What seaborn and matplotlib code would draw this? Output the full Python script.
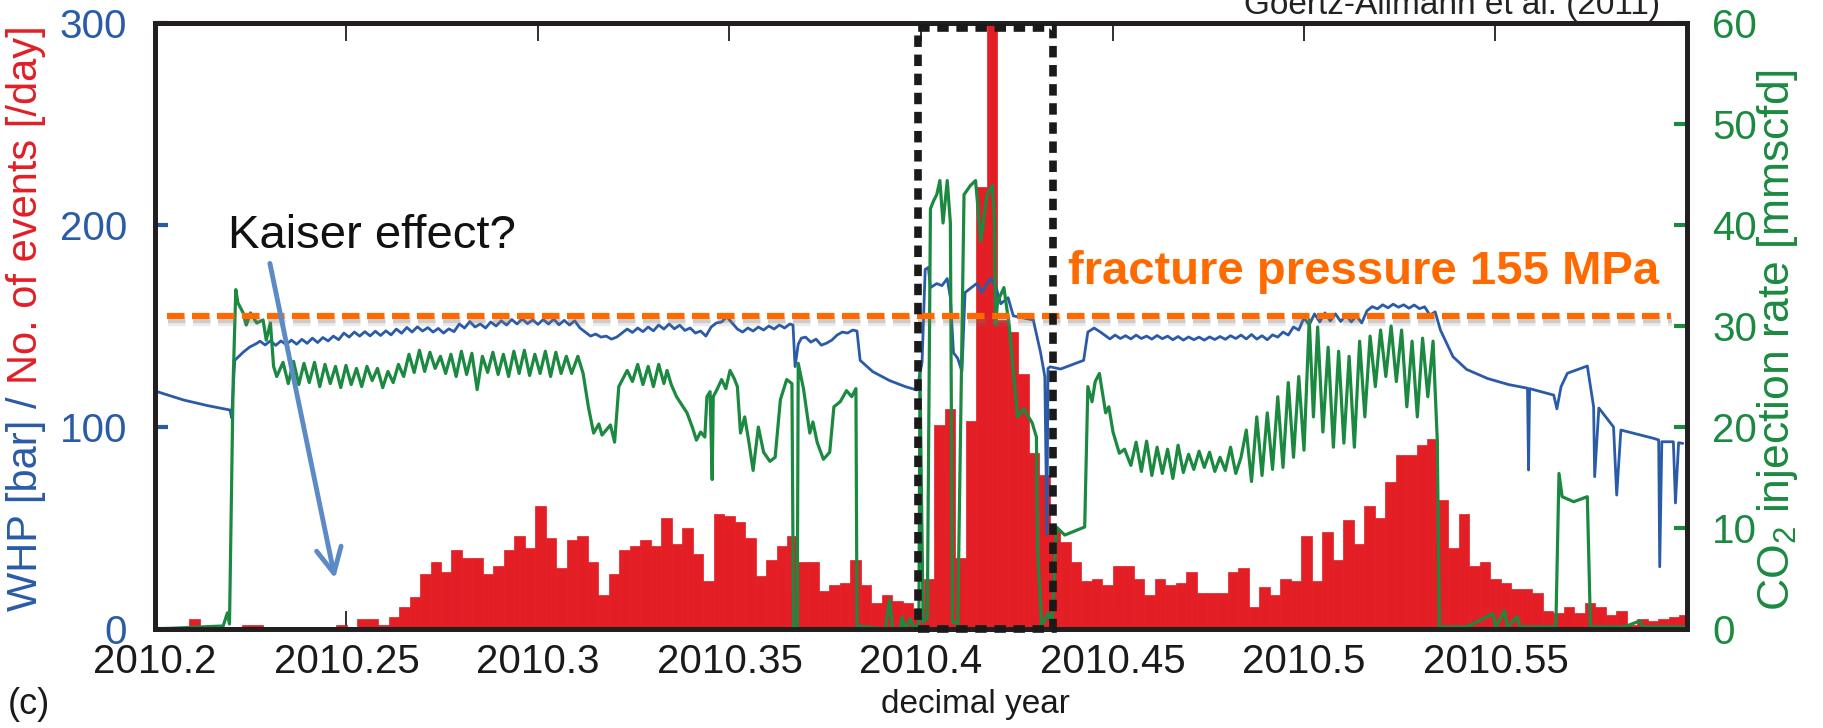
import matplotlib
matplotlib.use("Agg")
import numpy as np
import pandas as pd
import matplotlib.pyplot as plt
import matplotlib.patheffects as pe
from matplotlib.patches import Rectangle
import seaborn as sns

sns.set_theme(style="white")
plt.rcParams["font.family"] = ["Liberation Sans", "DejaVu Sans"]
plt.rcParams["mathtext.default"] = "regular"

BLUE = "#2a5ba8"
RED = "#e31e25"
GREEN = "#1b8a40"
ORANGE = "#ff6a00"
ARROW_BLUE = "#5b8ac6"
INK = "#231f20"

# ---------------------------------------------------------------- data
# daily number of micro-seismic events, one bin per day from EVENT_START
EVENT_START = 2010.2007
events_per_day = [
    1, 0, 1, 5, 1, 0, 0, 0, 2, 2,
    1, 1, 1, 1, 1, 1, 0, 2, 1, 5,
    5, 2, 6, 11, 16, 27, 33, 28, 39, 35,
    35, 27, 31, 39, 46, 40, 61, 45, 30, 44,
    46, 33, 17, 27, 39, 41, 44, 41, 55, 42,
    50, 37, 24, 57, 56, 53, 45, 26, 34, 41,
    46, 33, 33, 19, 22, 23, 34, 22, 13, 17,
    14, 13, 10, 25, 101, 109, 35, 103, 219, 330,
    153, 147, 126, 87, 76, 49, 43, 33, 24, 25,
    22, 31, 31, 25, 17, 25, 22, 23, 28, 18,
    18, 18, 28, 30, 11, 21, 17, 25, 24, 46,
    24, 48, 34, 54, 42, 61, 55, 73, 86, 86,
    91, 94, 64, 40, 57, 31, 33, 25, 23, 20,
    20, 18, 9, 8, 11, 8, 13, 11, 7, 9,
    2, 5, 4, 5, 6, 7,
]

# wellhead pressure [bar]; time in days after 2010.2
whp_day = [
    0.0, 0.2, 2.7, 5.0, 7.15, 7.3, 7.6, 8.4, 9.0, 9.7,
    10.0, 10.5, 11.0, 11.5, 12.0, 12.5, 13.0, 13.5, 14.0, 14.5,
    15.0, 15.5, 16.0, 16.5, 17.0, 17.5, 18.0, 18.5, 19.0, 19.5,
    20.0, 20.5, 21.0, 21.5, 22.0, 22.5, 23.0, 23.5, 24.0, 24.5,
    25.0, 25.5, 26.0, 26.5, 27.0, 27.5, 28.0, 28.5, 29.0, 29.5,
    30.0, 30.5, 31.0, 31.5, 32.0, 32.5, 33.0, 33.5, 34.0, 34.5,
    35.0, 35.5, 36.0, 36.5, 37.0, 37.5, 38.0, 38.5, 39.0, 39.5,
    40.0, 40.5, 41.0, 41.5, 42.0, 42.5, 43.0, 43.5, 44.0, 44.5,
    45.0, 45.5, 46.0, 46.5, 47.0, 47.5, 48.0, 48.5, 49.0, 49.5,
    50.0, 50.5, 51.0, 51.5, 52.0, 52.5, 53.0, 53.5, 54.0, 54.5,
    55.0, 55.5, 56.0, 56.5, 57.0, 57.5, 58.0, 58.5, 59.0, 59.5,
    60.0, 60.5, 60.8, 61.0, 61.3, 61.6, 62.0, 62.5, 63.0, 63.5,
    64.0, 64.5, 65.0, 65.5, 66.0, 66.5, 66.9, 67.2, 68.4, 70.0,
    71.5, 72.6, 73.1, 73.4, 73.7, 73.9, 74.5, 75.0, 75.5, 75.8,
    76.1, 76.5, 76.9, 77.2, 77.8, 78.3, 78.8, 79.6, 80.1, 80.6,
    81.3, 81.8, 83.7, 84.4, 84.8, 85.0, 85.1, 85.3, 86.3, 88.5,
    88.9, 89.5, 90.1, 91.0, 91.5, 92.0, 92.5, 93.0, 93.5, 94.0,
    94.5, 95.0, 95.5, 96.0, 96.5, 97.0, 97.5, 98.0, 98.5, 99.0,
    99.5, 100.0, 100.5, 101.0, 101.5, 102.0, 102.5, 103.0, 103.5, 104.0,
    104.5, 105.0, 105.5, 106.0, 106.5, 107.0, 107.5, 108.0, 108.5, 109.0,
    109.5, 110.0, 110.5, 111.0, 111.5, 112.0, 112.5, 113.0, 113.5, 114.0,
    114.5, 115.0, 115.5, 116.0, 116.5, 117.0, 117.5, 118.0, 118.5, 119.0,
    119.5, 120.0, 120.5, 121.0, 121.5, 122.0, 122.5, 123.7, 125.0, 127.0,
    129.0, 130.8, 130.9, 131.0, 133.3, 133.6, 134.0, 134.6, 136.5, 137.1,
    137.2, 137.6, 139.0, 139.3, 139.7, 142.8, 143.3, 143.4, 143.6, 144.7,
    144.9, 145.2, 145.6,
]
whp_bar = [
    118.0, 117.5, 113.4, 110.6, 108.4, 104.5, 133.0, 137.0, 139.5, 141.4,
    142.5, 140.6, 142.7, 140.4, 142.6, 140.8, 143.0, 141.0, 143.4, 141.4,
    144.0, 141.8, 144.3, 142.6, 145.0, 143.2, 146.5, 144.5, 147.0, 145.0,
    147.2, 145.1, 147.4, 145.3, 147.6, 145.6, 148.5, 146.4, 149.3, 147.0,
    149.6, 147.5, 149.2, 147.0, 148.8, 146.5, 148.6, 147.2, 151.0, 149.0,
    152.2, 149.5, 151.0, 149.0, 152.0, 150.0, 152.6, 150.5, 153.2, 151.0,
    153.5, 151.2, 153.0, 150.8, 153.2, 151.0, 153.4, 150.6, 152.8, 150.5,
    152.6, 149.0, 147.0, 145.0, 146.0, 144.5, 145.0, 143.5, 144.5, 146.5,
    148.5, 146.8, 149.0, 147.2, 149.5, 147.6, 150.5, 148.5, 151.0, 148.6,
    150.4, 147.8, 149.0, 146.5, 147.5, 145.0, 149.5, 151.5, 152.0, 154.5,
    151.5, 148.5, 147.0, 149.0, 147.5, 149.5, 148.0, 150.0, 148.5, 150.5,
    149.0, 151.0, 150.5, 129.9, 141.0, 144.0, 144.5, 142.0, 143.5, 140.5,
    141.5, 143.0, 145.5, 147.0, 146.5, 148.0, 147.5, 133.0, 127.4, 123.0,
    120.0, 118.3, 132.0, 178.0, 179.0, 169.0, 171.0, 170.0, 173.5, 164.0,
    136.7, 134.0, 127.5, 166.6, 169.0, 171.0, 166.6, 173.5, 170.0, 161.0,
    164.0, 155.0, 153.0, 136.7, 125.0, 47.0, 129.0, 129.8, 128.7, 133.0,
    147.0, 149.0, 147.0, 143.6, 145.5, 143.8, 145.2, 143.6, 145.5, 143.8,
    145.0, 143.5, 145.3, 143.7, 145.0, 143.2, 144.8, 143.0, 144.6, 143.2,
    144.5, 143.0, 144.6, 143.3, 144.8, 143.4, 145.2, 143.8, 145.5, 143.6,
    145.8, 143.5, 145.2, 143.2, 145.6, 144.5, 147.0, 145.5, 149.5, 148.0,
    154.0, 150.5, 156.0, 152.0, 156.5, 152.5, 156.0, 152.2, 155.5, 152.0,
    155.0, 151.5, 157.5, 159.6, 158.5, 160.5, 159.0, 160.8, 159.3, 160.5,
    158.8, 160.4, 158.6, 159.5, 155.4, 157.0, 148.0, 134.8, 128.5, 124.0,
    121.0, 119.2, 78.7, 119.0, 115.8, 109.0, 120.0, 126.6, 130.2, 110.0,
    75.4, 109.4, 100.0, 66.3, 98.5, 94.4, 93.6, 30.8, 92.7, 92.7,
    62.4, 92.2, 91.9,
]

# CO2 injection rate [mmscfd]; time in days after 2010.2
co2_day = [
    0.0, 6.5, 6.9, 7.1, 7.3, 7.45, 7.7, 7.9, 8.4, 8.7,
    9.1, 9.7, 10.3, 10.6, 11.0, 11.3, 11.6, 12.2, 12.7, 13.2,
    13.7, 14.2, 14.7, 15.2, 15.7, 16.2, 16.7, 17.2, 17.7, 18.2,
    18.7, 19.2, 19.7, 20.2, 20.7, 21.2, 21.7, 22.2, 22.7, 23.2,
    23.7, 24.2, 24.7, 25.2, 25.7, 26.2, 26.7, 27.2, 27.7, 28.2,
    28.7, 29.2, 29.7, 30.2, 30.7, 31.2, 31.7, 32.2, 32.7, 33.2,
    33.7, 34.2, 34.7, 35.2, 35.7, 36.2, 36.7, 37.2, 37.7, 38.2,
    38.7, 39.2, 39.7, 40.3, 40.8, 41.3, 41.8, 42.3, 42.6, 43.0,
    43.4, 43.8, 44.2, 45.0, 45.5, 46.0, 46.5, 47.0, 47.5, 48.0,
    48.5, 48.8, 49.2, 49.7, 50.2, 50.7, 51.2, 51.6, 52.0, 52.4,
    52.6, 52.9, 53.1, 53.2, 53.6, 54.0, 54.4, 54.8, 55.2, 55.5,
    55.8, 56.2, 56.6, 57.0, 57.5, 58.0, 58.6, 59.1, 59.6, 60.2,
    60.7, 60.85, 61.2, 61.3, 61.8, 62.4, 62.7, 63.1, 63.7, 64.3,
    64.7, 65.3, 65.9, 66.4, 66.8, 66.9, 69.6, 70.0, 70.3, 71.0,
    71.2, 71.5, 72.0, 72.3, 72.8, 72.9, 73.2, 73.6, 73.9, 74.2,
    74.5, 74.8, 75.1, 75.5, 75.8, 76.0, 76.5, 77.1, 77.7, 78.2,
    78.7, 79.3, 79.8, 80.0, 80.1, 80.3, 80.9, 81.4, 81.8, 82.2,
    82.8, 83.6, 84.0, 84.1, 84.5, 85.1, 85.5, 85.9, 86.7, 88.6,
    88.9, 89.3, 89.6, 90.0, 90.6, 90.9, 91.3, 91.9, 92.4, 93.0,
    93.5, 94.0, 94.5, 95.0, 95.5, 96.0, 96.5, 97.0, 97.5, 98.0,
    98.5, 99.0, 99.5, 100.0, 100.5, 101.0, 101.5, 102.0, 102.5, 103.0,
    103.5, 104.0, 104.5, 105.0, 105.5, 106.0, 106.5, 107.0, 107.5, 108.0,
    108.5, 109.0, 109.5, 110.0, 110.4, 110.8, 111.3, 111.8, 112.3, 112.8,
    113.3, 113.8, 114.3, 114.8, 115.3, 115.8, 116.3, 116.8, 117.3, 117.8,
    118.3, 118.8, 119.3, 119.8, 120.3, 120.8, 121.3, 121.8, 122.2, 122.4,
    125.0, 127.5, 127.8, 128.6, 128.9, 129.8, 130.1, 133.5, 133.8, 134.1,
    135.2, 136.5, 136.8, 140.0, 141.5, 141.8, 145.8,
]
co2_rate = [
    0.0, 0.3, 1.6, 0.5, 14.0, 24.6, 33.6, 32.3, 31.3, 30.1,
    31.3, 30.3, 30.6, 28.6, 30.3, 26.0, 25.0, 26.4, 24.3, 26.5,
    24.2, 26.3, 24.4, 26.4, 24.0, 26.2, 24.3, 26.0, 23.9, 26.1,
    24.2, 25.8, 24.0, 26.0, 24.6, 25.8, 23.9, 25.5, 24.4, 26.2,
    25.0, 27.2, 25.4, 27.6, 25.5, 27.4, 25.8, 27.0, 25.3, 27.2,
    25.0, 27.5, 25.2, 27.3, 23.7, 27.0, 25.4, 27.4, 25.2, 27.2,
    25.0, 27.5, 25.3, 27.6, 25.1, 27.2, 25.3, 27.5, 25.0, 27.4,
    25.3, 27.0, 25.3, 27.0, 25.3, 22.0, 19.4, 20.3, 19.2, 19.7,
    20.2, 18.5, 24.0, 25.6, 24.5, 26.2, 24.2, 26.0, 24.0, 26.2,
    24.3, 25.6, 24.2, 23.0, 22.2, 21.4, 20.0, 18.7, 19.5, 19.0,
    23.0, 23.5, 14.8, 23.0, 23.8, 24.7, 23.8, 25.6, 24.8, 24.0,
    19.4, 21.0, 18.5, 15.7, 20.0, 17.5, 16.6, 17.0, 22.7, 24.7,
    24.3, 0.2, 0.2, 26.3, 23.8, 19.4, 20.5, 18.5, 16.8, 17.5,
    22.0, 22.5, 23.6, 23.0, 23.8, 0.3, 0.0, 2.9, 0.0, 0.0,
    1.2, 0.0, 1.0, 0.0, 0.5, 25.5, 0.7, 1.0, 41.6, 42.4,
    43.0, 44.4, 40.2, 44.4, 40.2, 0.7, 0.5, 43.0, 43.9, 44.4,
    38.4, 43.0, 43.9, 40.7, 30.1, 32.4, 33.8, 30.1, 25.5, 21.0,
    21.8, 20.4, 19.0, 8.1, 0.2, 1.6, 0.5, 10.1, 9.3, 10.1,
    24.0, 22.5, 24.5, 25.3, 21.4, 22.0, 19.5, 17.4, 17.8, 16.2,
    18.5, 15.6, 18.6, 15.2, 18.0, 15.4, 17.8, 14.9, 18.2, 15.5,
    17.3, 15.8, 17.6, 16.0, 17.5, 15.6, 17.0, 15.7, 18.0, 15.4,
    17.0, 19.7, 14.6, 21.0, 15.2, 21.4, 15.8, 23.0, 16.0, 24.4,
    17.0, 25.0, 17.7, 30.6, 21.0, 29.9, 19.5, 27.9, 18.0, 27.5,
    18.4, 27.0, 18.0, 28.5, 21.0, 29.0, 24.0, 29.6, 25.0, 30.0,
    24.5, 29.6, 22.0, 28.5, 21.0, 28.8, 23.0, 28.5, 18.7, 0.2,
    0.2, 1.5, 0.2, 1.8, 0.2, 1.2, 0.2, 0.2, 15.4, 13.1,
    12.6, 13.1, 0.2, 0.2, 0.8, 0.2, 0.2,
]

FRACTURE_PRESSURE = 155  # shown as "155 MPa" in the annotation
x_ticks = [2010.2, 2010.25, 2010.3, 2010.35, 2010.4, 2010.45, 2010.5, 2010.55]
x_tick_labels = ["2010.2", "2010.25", "2010.3", "2010.35",
                 "2010.4", "2010.45", "2010.5", "2010.55"]
left_ticks = [0, 100, 200, 300]
right_ticks = [0, 10, 20, 30, 40, 50, 60]

# ---------------------------------------------------------------- frames
n_bins = len(events_per_day)
DAY = 1 / 365.0
events = pd.DataFrame({"t": EVENT_START + (np.arange(n_bins) + 0.5) * DAY,
                       "n": events_per_day})
whp = pd.DataFrame({"t": 2010.2 + np.array(whp_day) * DAY, "p": whp_bar})
co2 = pd.DataFrame({"t": 2010.2 + np.array(co2_day) * DAY, "q": co2_rate})

# ---------------------------------------------------------------- figure
W, H = 1824, 728
fig = plt.figure(figsize=(W / 100, H / 100), dpi=100)
ax = fig.add_axes([155 / W, 99 / H, 1532 / W, 606 / H])

sns.histplot(data=events, x="t", weights="n", binwidth=DAY,
             binrange=(EVENT_START, EVENT_START + n_bins * DAY),
             color=RED, alpha=1.0, edgecolor=RED, linewidth=0.5,
             ax=ax, zorder=1)
sns.lineplot(data=whp, x="t", y="p", color=BLUE, linewidth=2.0,
             estimator=None, sort=False, ax=ax, zorder=3)

ax2 = ax.twinx()
sns.lineplot(data=co2, x="t", y="q", color=GREEN, linewidth=2.3,
             estimator=None, sort=False, ax=ax2, zorder=2)

ax.set_xlim(2010.2, 2010.6)
ax.set_ylim(0, 300)
ax2.set_ylim(0, 60)
ax.set_xlabel("")
ax.set_ylabel("")
ax2.set_ylabel("")
ax.grid(False)
ax2.grid(False)

ax.set_xticks(x_ticks)
ax.set_xticklabels(x_tick_labels)
ax.set_yticks(left_ticks)
ax2.set_yticks(right_ticks)

ax.tick_params(axis="x", direction="in", length=13, width=1.3, color=INK,
               labelsize=29, labelcolor="#1a1a1a", pad=10,
               bottom=True, top=True)
ax.tick_params(axis="y", direction="in", length=9.5, width=3, color=BLUE,
               labelcolor=BLUE, labelsize=29, pad=20, left=True, right=False)
ax2.tick_params(axis="y", direction="in", length=9.5, width=3, color=GREEN,
                labelcolor=GREEN, labelsize=29, pad=18, right=True, left=False)

for a in (ax, ax2):
    for s in a.spines.values():
        s.set_visible(True)
        s.set_linewidth(3.5)
        s.set_color(INK)

# fracture-pressure level, with a soft drop shadow
ax2.plot([2010.2031, 2010.5958], [FRACTURE_PRESSURE, FRACTURE_PRESSURE],
         transform=ax.transData, color=ORANGE, linewidth=4.5,
         linestyle=(0, (2.8, 1.2)), zorder=6, solid_capstyle="butt",
         path_effects=[
             pe.SimpleLineShadow(offset=(1, -3), shadow_color="#777777", alpha=0.25),
             pe.SimpleLineShadow(offset=(1, -5), shadow_color="#777777", alpha=0.15),
             pe.Normal()])

# dashed frame around the high-rate injection period
ax2.add_patch(Rectangle((2010.3992, 0.0), 0.0353, 0.992,
                        transform=ax2.get_xaxis_transform(), fill=False,
                        edgecolor="#1a1a1a", linewidth=5.5,
                        linestyle=(0, (1.5, 1.0)), zorder=8, clip_on=False))

# arrow from the Kaiser-effect note down to the quiet early period
ax2.annotate("", xy=(2010.247, 25), xytext=(2010.230, 181),
             xycoords=ax.transData, textcoords=ax.transData,
             arrowprops=dict(arrowstyle="->,head_length=0.6,head_width=0.3",
                             color=ARROW_BLUE, linewidth=3.5,
                             mutation_scale=30, shrinkA=0, shrinkB=0),
             zorder=9)

# ---------------------------------------------------------------- texts
fig.text(228 / W, 1 - 248 / H, "Kaiser effect?", fontsize=34,
         color="#111111", ha="left", va="baseline")
fig.text(1068 / W, 1 - 284 / H, "fracture pressure 155 MPa", fontsize=34,
         fontweight="bold", color=ORANGE, ha="left", va="baseline")
fig.text(1660 / W, 1 - 14 / H, "Goertz-Allmann et al. (2011)", fontsize=24,
         color="#222222", ha="right", va="baseline")
fig.text(975 / W, 1 - 705 / H, "decimal year", fontsize=24,
         color="#1a1a1a", ha="center", va="center")
fig.text(8 / W, 1 - 705 / H, "(c)", fontsize=26,
         color="#1a1a1a", ha="left", va="center")

lab_x = 26 / W
t1 = fig.text(lab_x, 117 / H, "WHP [bar] /", rotation=90, color=BLUE,
              fontsize=30, ha="center", va="bottom")
fig.canvas.draw()
bb = t1.get_window_extent()
fig.text(lab_x, (bb.y1 + 12) / H, "No. of events [/day]", rotation=90,
         color=RED, fontsize=30, ha="center", va="bottom")

fig.text(1778 / W, 388 / H, "CO$_2$ injection rate [mmscfd]", rotation=90,
         color=GREEN, fontsize=32, ha="center", va="center")

fig.savefig("out.png", dpi=100)
